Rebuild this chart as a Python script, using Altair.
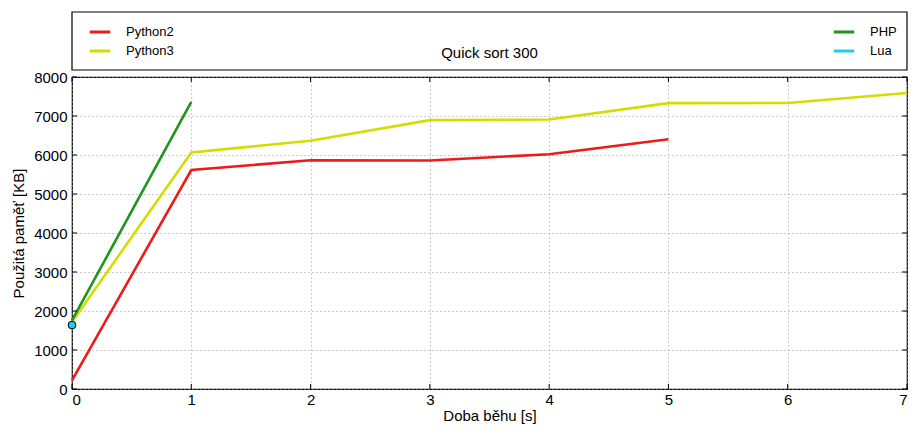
import altair as alt
import pandas as pd

# ---- data ----
py2_x = [0, 1, 2, 3, 4, 5]
py2_y = [220, 5615, 5865, 5860, 6020, 6405]
py3_x = [0, 1, 2, 3, 4, 5, 6, 7]
py3_y = [1720, 6065, 6365, 6895, 6910, 7330, 7335, 7590]
php_x = [0, 1]
php_y = [1760, 7360]
lua_x = [0]
lua_y = [1640]

left_names = ["Python2", "Python3"]
left_colors = ["#ee1a1a", "#d4dc00"]
right_names = ["PHP", "Lua"]
right_colors = ["#1f951f", "#22ccee"]

x_ticks = [0, 1, 2, 3, 4, 5, 6, 7]
y_ticks = [0, 1000, 2000, 3000, 4000, 5000, 6000, 7000, 8000]

title_text = "Quick sort 300"
x_title = "Doba běhu [s]"
y_title = "Použitá paměť [KB]"

W, H = 835, 312
FONT = "Liberation Sans"

py_df = pd.concat([
    pd.DataFrame({"x": py2_x, "y": py2_y, "series": "Python2"}),
    pd.DataFrame({"x": py3_x, "y": py3_y, "series": "Python3"}),
])
php_df = pd.DataFrame({"x": php_x, "y": php_y, "series": "PHP"})
lua_df = pd.DataFrame({"x": lua_x, "y": lua_y, "series": "Lua"})

xscale = alt.Scale(domain=[0, 7], nice=False, zero=False)
yscale = alt.Scale(domain=[0, 8000], nice=False)

xaxis = alt.Axis(values=x_ticks, title=x_title, grid=True, ticks=False, domain=False,
                 labelPadding=3, titlePadding=1, format="d", labelOverlap=False,
                 tickCount=8)
yaxis = alt.Axis(values=y_ticks, title=y_title, grid=True, ticks=False, domain=False,
                 labelPadding=5, titlePadding=7, format="d", labelOverlap=False,
                 tickCount=9)

def X(field="x"):
    return alt.X(f"{field}:Q", scale=xscale, axis=xaxis, title=x_title)

def Y(field="y"):
    return alt.Y(f"{field}:Q", scale=yscale, axis=yaxis, title=y_title)

def leg(x, y):
    return alt.Legend(orient="none", legendX=x, legendY=y, title=None,
                      symbolType="stroke", symbolSize=420, symbolStrokeWidth=3,
                      labelFont=FONT, labelFontSize=13, labelColor="black",
                      rowPadding=0, labelOffset=14, symbolOpacity=1)

py_lines = alt.Chart(py_df).mark_line(strokeWidth=2.6).encode(
    x=X(), y=Y(),
    color=alt.Color("series:N", scale=alt.Scale(domain=left_names, range=left_colors),
                    legend=leg(16, -57)),
)

php_lines = alt.Chart(pd.concat([php_df, lua_df])).transform_filter(
    alt.datum.series == "PHP"
).mark_line(strokeWidth=2.6).encode(
    x=X(), y=Y(),
    color=alt.Color("series:N", scale=alt.Scale(domain=right_names, range=right_colors),
                    legend=leg(760, -57)),
)

lua_pt = alt.Chart(lua_df).mark_point(filled=True, size=60, fill=right_colors[1],
                                      stroke="black", strokeWidth=1, opacity=1, clip=False).encode(
    x=X(), y=Y(),
)

box = alt.Chart(pd.DataFrame({"a": [0]})).mark_rect(
    fill="white", stroke="black", strokeWidth=1.2
).encode(x=alt.value(0), x2=alt.value(W), y=alt.value(-65), y2=alt.value(-7))

title = alt.Chart(pd.DataFrame({"t": [title_text]})).mark_text(
    font=FONT, fontSize=15, color="black", baseline="middle", align="center"
).encode(text="t:N", x=alt.value(W / 2), y=alt.value(-24))

xt = pd.DataFrame({"x": x_ticks})
yt = pd.DataFrame({"y": y_ticks})
tick_b = alt.Chart(xt).mark_rule(color="black", strokeWidth=1).encode(
    x=X(), y=alt.value(H), y2=alt.value(H - 5))
tick_t = alt.Chart(xt).mark_rule(color="black", strokeWidth=1).encode(
    x=X(), y=alt.value(0), y2=alt.value(5))
tick_l = alt.Chart(yt).mark_rule(color="black", strokeWidth=1).encode(
    y=Y(), x=alt.value(0), x2=alt.value(5))
tick_r = alt.Chart(yt).mark_rule(color="black", strokeWidth=1).encode(
    y=Y(), x=alt.value(W), x2=alt.value(W - 5))

chart = alt.layer(
    py_lines, php_lines, lua_pt, box, title, tick_b, tick_t, tick_l, tick_r
).resolve_scale(color="independent").properties(
    width=W, height=H,
    autosize=alt.AutoSizeParams(type="none"),
    padding={"left": 64, "top": 69, "right": 1, "bottom": 37},
).configure_view(
    stroke="black", strokeWidth=1.2
).configure_axis(
    labelFont=FONT, titleFont=FONT, labelFontSize=15, titleFontSize=15,
    titleFontWeight="normal", labelColor="black", titleColor="black",
    gridColor="#999999", gridDash=[1, 3], gridWidth=1, gridOpacity=1,
)

chart.save("out.html", embed_options={"renderer": "svg", "actions": False})
